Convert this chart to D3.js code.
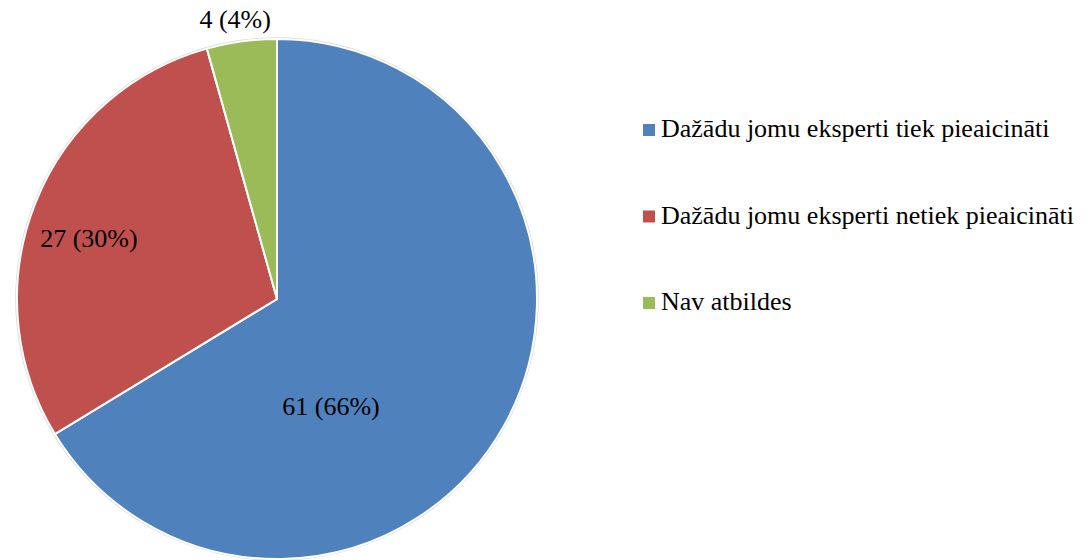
<!DOCTYPE html>
<html>
<head>
<meta charset="utf-8">
<script src="https://cdn.jsdelivr.net/npm/d3@7"></script>
<style>
  body { margin: 0; background: #fff; }
</style>
</head>
<body>
<div id="chart"></div>
<script>
// data
var categories = ["Dažādu jomu eksperti tiek pieaicināti", "Dažādu jomu eksperti netiek pieaicināti", "Nav atbildes"];
var counts = [61, 27, 4];
var percents = [66, 30, 4];
var colors = ["#4F81BD", "#C0504D", "#9BBB59"];

var width = 1090, height = 560;
var cx = 277, cy = 299, radius = 260;
var serif = "'Times New Roman', Times, 'Liberation Serif', Tinos";

// label placement (angle in degrees from top, radius as fraction of pie radius)
var labelPlace = [[153.2, 0.461], [287.8, 0.76], [351.5, 1.088]];

var svg = d3.select("#chart").append("svg")
    .attr("width", width)
    .attr("height", height);

var pie = d3.pie().sort(null).value(function(d) { return d; });
var arc = d3.arc().innerRadius(0).outerRadius(radius);
var arcs = pie(counts);

var g = svg.append("g").attr("transform", "translate(" + cx + "," + cy + ")");

// faint outline round the pie
g.append("circle")
    .attr("r", radius + 1)
    .style("fill", "none")
    .style("stroke", "#d9d9d9")
    .style("stroke-width", 1.5);

g.selectAll("path.slice")
    .data(arcs)
    .enter().append("path")
    .attr("class", "slice")
    .attr("d", arc)
    .style("fill", function(d, i) { return colors[i] })
    .style("stroke", "#fff")
    .style("stroke-width", 2);

g.selectAll("text.lbl")
    .data(arcs)
    .enter().append("text")
    .attr("class", "lbl")
    .attr("x", function(d, i) { return Math.sin(labelPlace[i][0] * Math.PI / 180) * labelPlace[i][1] * radius })
    .attr("y", function(d, i) { return -Math.cos(labelPlace[i][0] * Math.PI / 180) * labelPlace[i][1] * radius })
    .attr("dy", "0.34em")
    .attr("text-anchor", "middle")
    .attr("font-family", serif)
    .attr("font-size", 26)
    .text(function(d, i) { return counts[i] + " (" + percents[i] + "%)" });

// legend
var legend = svg.append("g").attr("transform", "translate(643,0)");
var ly = d3.scalePoint().domain(categories).range([130, 303]);

var item = legend.selectAll("g.item")
    .data(categories)
    .enter().append("g")
    .attr("class", "item")
    .attr("transform", function(d) { return "translate(0," + ly(d) + ")" });

item.append("rect")
    .attr("x", 0)
    .attr("y", -6)
    .attr("width", 12)
    .attr("height", 12)
    .style("fill", function(d, i) { return colors[i] });

item.append("text")
    .attr("x", 18)
    .attr("y", 7)
    .attr("font-family", serif)
    .attr("font-size", 26)
    .text(function(d) { return d });
</script>
</body>
</html>
